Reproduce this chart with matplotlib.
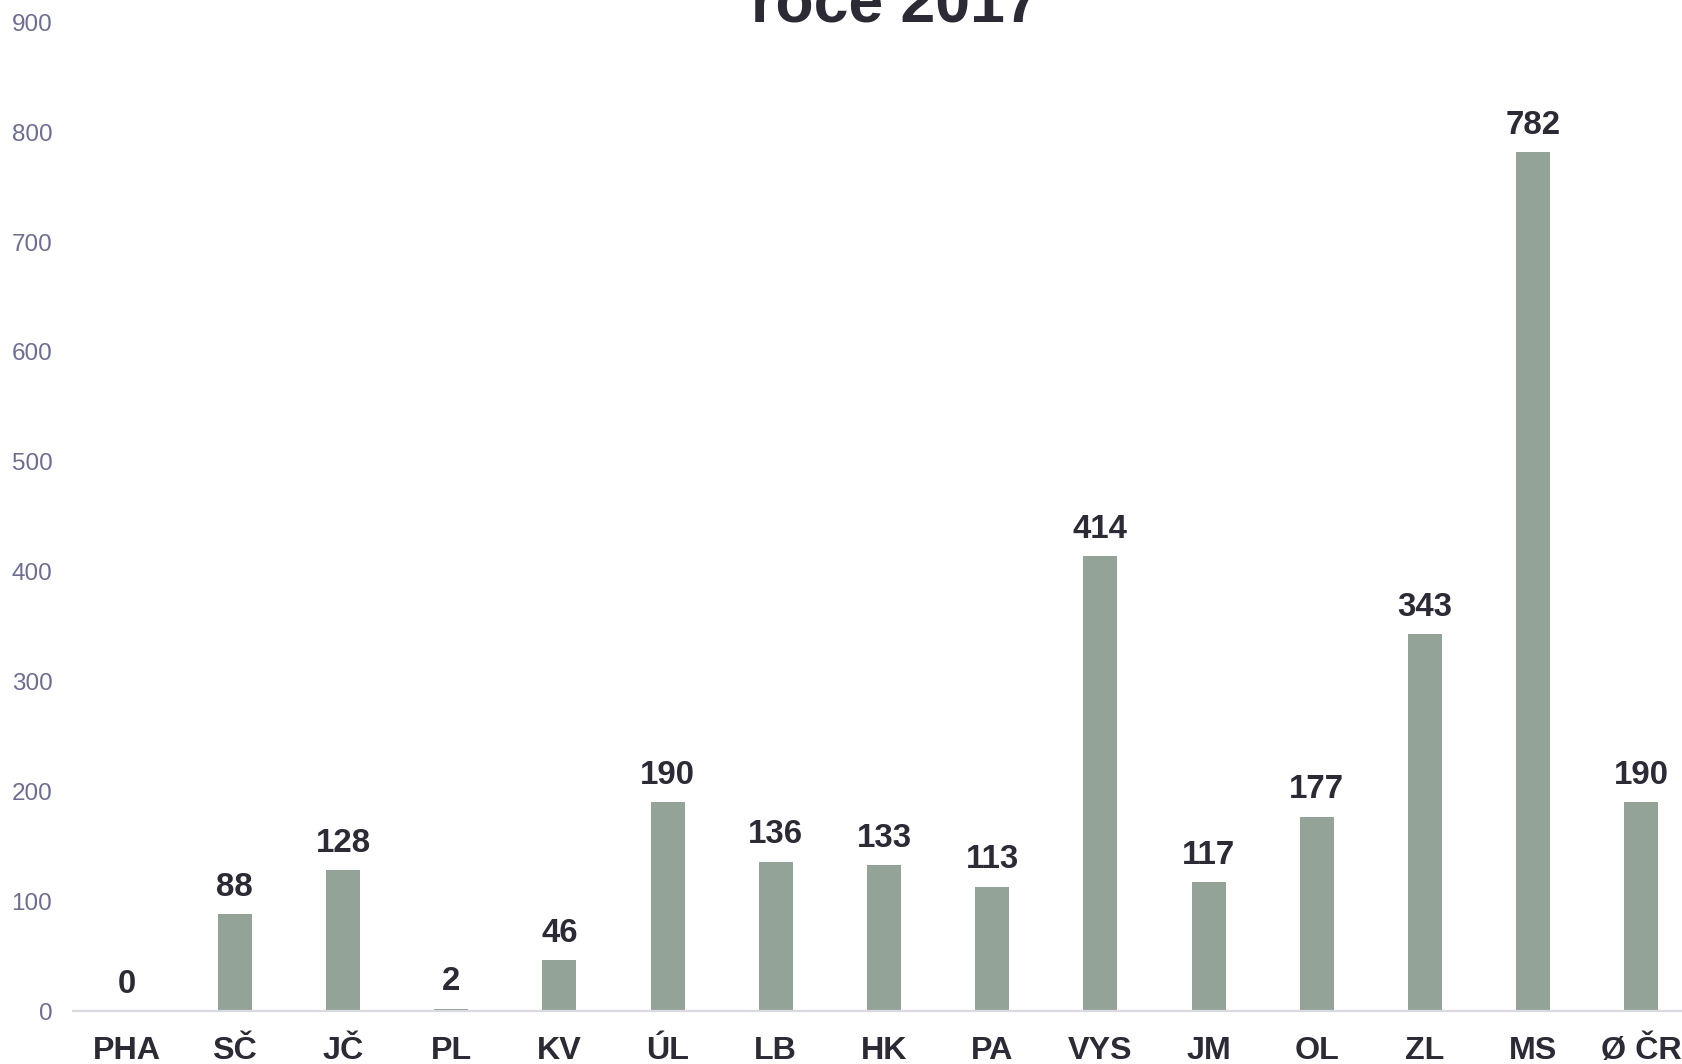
import matplotlib
matplotlib.use("Agg")
import matplotlib.pyplot as plt

categories = ["PHA", "SČ", "JČ", "PL", "KV", "ÚL", "LB", "HK", "PA", "VYS", "JM", "OL", "ZL", "MS", "Ø ČR"]
values = [0, 88, 128, 2, 46, 190, 136, 133, 113, 414, 117, 177, 343, 782, 190]
yticks = [0, 100, 200, 300, 400, 500, 600, 700, 800, 900]
title_visible = "roce 2017"

plt.rcParams['font.family'] = ['Liberation Sans', 'DejaVu Sans']

W, H = 1682, 1064
fig = plt.figure(figsize=(W / 100, H / 100), dpi=100)
fig.patch.set_facecolor("white")

left_px, right_px = 72.5, 72.5 + 15 * 108.2
y0_px, y900_px = 1011, 22.5
ax = fig.add_axes([left_px / W, (H - y0_px) / H, (right_px - left_px) / W, (y0_px - y900_px) / H])
ax.set_facecolor("none")

bar_color = "#93a398"
text_dark = "#2b2a35"
tick_color = "#6e6d91"

x = list(range(len(categories)))
ax.bar(x, values, width=0.315, color=bar_color, zorder=2)
ax.set_xlim(-0.5, len(categories) - 0.5)
ax.set_ylim(0, 900)

for s in ["top", "right", "left"]:
    ax.spines[s].set_visible(False)
ax.spines["bottom"].set_color("#d9d9e1")
ax.spines["bottom"].set_linewidth(1.6)
ax.spines["bottom"].set_zorder(3)

ax.set_yticks(yticks)
ax.set_yticklabels([str(v) for v in yticks], fontsize=17.5, color=tick_color)
ax.tick_params(axis="y", length=0, pad=14.5)
ax.set_xticks(x)
ax.set_xticklabels([])
ax.tick_params(axis="x", length=0)

for i, (c, v) in enumerate(zip(categories, values)):
    ax.annotate(c, xy=(i, 0), xycoords=("data", "data"), xytext=(0, -48),
                textcoords="offset pixels", ha="center", va="baseline",
                fontsize=23.2, fontweight="bold", color=text_dark, annotation_clip=False)
    ax.annotate(str(v), xy=(i, v), xytext=(0, 18.4), textcoords="offset pixels",
                ha="center", va="baseline", fontsize=23.8, fontweight="bold",
                color=text_dark, annotation_clip=False)

fig.text(895 / W, 1 - 22.7 / H, title_visible, ha="center", va="baseline",
         fontsize=45, fontweight="bold", color=text_dark)

fig.savefig("out.png", dpi=100)
